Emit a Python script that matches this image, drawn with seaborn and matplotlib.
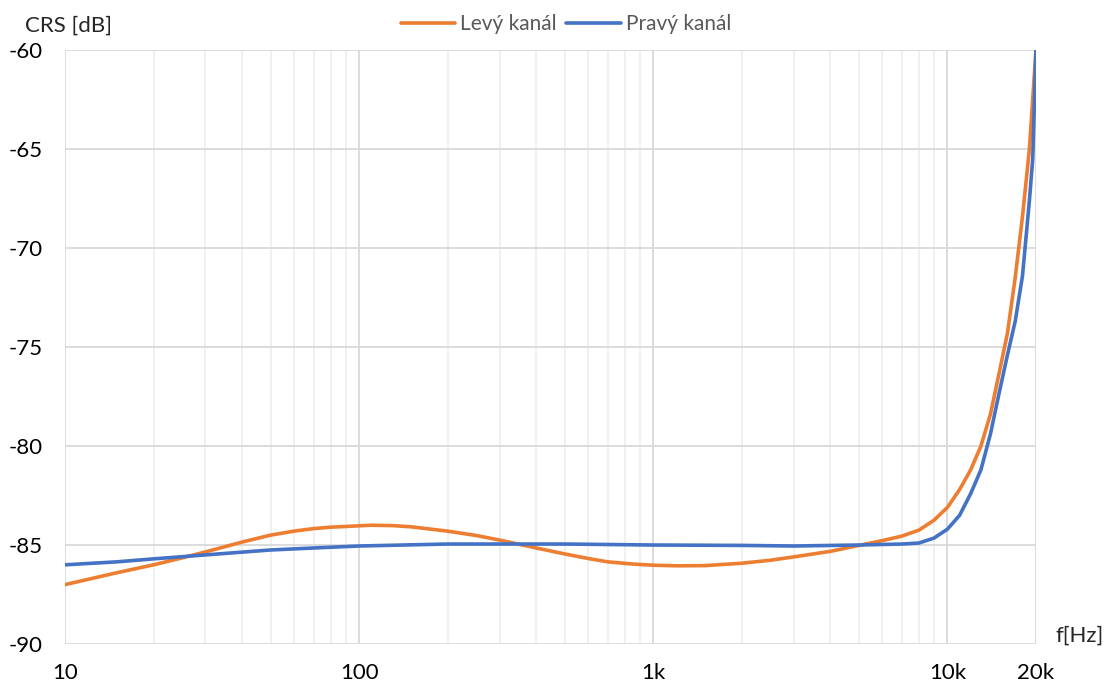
import seaborn as sns
import pandas as pd
import matplotlib.pyplot as plt
from matplotlib.ticker import FixedLocator, LogLocator, NullFormatter

# values
freq_levy = [10, 15, 20, 25, 30, 40, 50, 60, 70, 80, 100, 110, 130, 150, 200, 250, 300, 400,
             500, 600, 700, 850, 1000, 1200, 1500, 2000, 2500, 3000, 4000, 5000, 6000, 7000,
             8000, 9000, 10000, 11000, 12000, 13000, 14000, 15000, 16000, 17000, 18000,
             19000, 20000]
crs_levy = [-87.0, -86.4, -86.0, -85.65, -85.35, -84.85, -84.5, -84.3, -84.17, -84.1,
            -84.03, -84.0, -84.02, -84.08, -84.3, -84.52, -84.75, -85.15, -85.45, -85.68,
            -85.85, -85.96, -86.02, -86.05, -86.04, -85.92, -85.77, -85.6, -85.32, -85.02,
            -84.78, -84.55, -84.25, -83.75, -83.1, -82.2, -81.2, -80.0, -78.4, -76.3,
            -74.3, -71.5, -68.4, -65.0, -60.0]

freq_pravy = [10, 15, 20, 30, 50, 70, 100, 200, 500, 1000, 2000, 3000, 5000, 7000, 8000,
              9000, 10000, 11000, 12000, 13000, 14000, 15000, 16000, 17000, 18000, 19000,
              19500, 20000]
crs_pravy = [-86.0, -85.85, -85.7, -85.5, -85.25, -85.15, -85.05, -84.95, -84.95, -85.0,
             -85.02, -85.05, -85.0, -84.95, -84.9, -84.65, -84.2, -83.5, -82.4, -81.2,
             -79.4, -77.3, -75.4, -73.7, -71.4, -67.6, -65.5, -60.0]

x_ticks = [10, 100, 1000, 10000, 20000]
x_labels = ["10", "100", "1k", "10k", "20k"]
y_ticks = [-90, -85, -80, -75, -70, -65, -60]

df = pd.concat([
    pd.DataFrame({"f": freq_levy, "crs": crs_levy, "kanal": "Levý kanál"}),
    pd.DataFrame({"f": freq_pravy, "crs": crs_pravy, "kanal": "Pravý kanál"}),
])

sns.set_style("white")
plt.rcParams['font.family'] = ['Lato', 'DejaVu Sans']

fig = plt.figure(figsize=(11.1, 6.86), dpi=100)
ax = fig.add_axes([0.0586, 0.0612, 0.8747, 0.8659])

sns.lineplot(data=df, x="f", y="crs", hue="kanal", sort=False, ax=ax,
             palette={"Levý kanál": "#ED7D31", "Pravý kanál": "#4472C4"},
             linewidth=2.6, zorder=3)

ax.set_xscale("log")
ax.set_xlim(10, 20000)
ax.set_ylim(-90, -60)
ax.xaxis.set_major_locator(FixedLocator(x_ticks))
ax.set_xticklabels(x_labels)
ax.xaxis.set_minor_locator(LogLocator(base=10, subs=range(2, 10)))
ax.xaxis.set_minor_formatter(NullFormatter())
ax.set_yticks(y_ticks)
ax.set_yticklabels([str(v) for v in y_ticks])

ax.grid(True, which="major", axis="both", color="#d9d9d9", linewidth=1.3)
ax.grid(True, which="minor", axis="x", color="#efefef", linewidth=1.3)
ax.set_axisbelow(True)
for s in ax.spines.values():
    s.set_visible(False)
ax.tick_params(axis="both", which="both", length=0, labelsize=16, colors="black")
ax.tick_params(axis="x", pad=14)
ax.tick_params(axis="y", pad=16)
ax.set_xlabel("")
ax.set_ylabel("")

fig.text(0.0225, 0.963, "CRS [dB]", fontsize=16, ha="left", va="center")
fig.text(0.951, 0.074, "f[Hz]", fontsize=16, ha="left", va="center")

sns.move_legend(ax, "center", bbox_to_anchor=(0.51, 0.965), bbox_transform=fig.transFigure,
                ncol=2, frameon=False, title=None, fontsize=15, handlelength=2.6,
                columnspacing=0.45, handletextpad=0.25, labelcolor="#595959")

fig.savefig("out.png", dpi=100)
